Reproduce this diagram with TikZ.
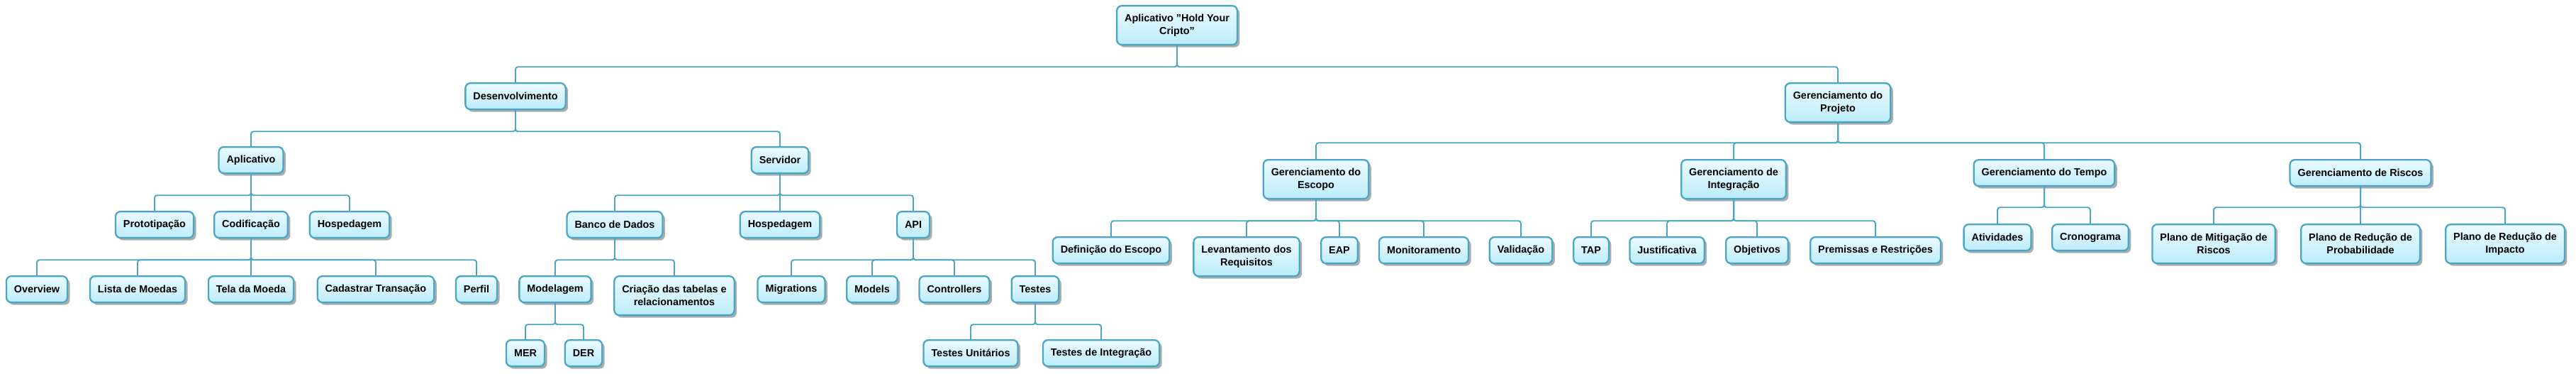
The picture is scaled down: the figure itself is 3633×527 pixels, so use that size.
\documentclass[tikz,border=0pt]{standalone}
\usepackage{fontspec}
\setmainfont{Liberation Sans}
\usetikzlibrary{shadows}

\definecolor{wbsline}{RGB}{74,166,196}
\definecolor{wbstop}{RGB}{236,251,255}
\definecolor{wbsbottom}{RGB}{188,236,251}

\begin{document}
\begin{tikzpicture}[
  x=0.02cm, y=-0.02cm,
  every node/.style={font=\fontsize{8.2pt}{10.2pt}\selectfont\bfseries},
  wbs/.style={draw=wbsline, line width=1.3pt, rounded corners=4pt,
    top color=wbstop, bottom color=wbsbottom, align=center, anchor=north,
    inner xsep=0.22cm, inner ysep=0pt, minimum height=0.74cm,
    drop shadow={fill=black!40, opacity=0.8, shadow xshift=0.07cm, shadow yshift=-0.07cm}},
  wbstwo/.style={wbs, minimum height=1.1cm},
  conn/.style={draw=wbsline, line width=1.1pt, rounded corners=2pt},
  ]
\useasboundingbox (0,0) rectangle (3633,527);

% Root and first level
\node[wbstwo] (root) at (1660,7) {Aplicativo "Hold Your\\Cripto"};
\node[wbs] (dev) at (727,116) {Desenvolvimento};
\node[wbstwo] (gp) at (2592,116) {Gerenciamento do\\Projeto};

% Desenvolvimento
\node[wbs] (app) at (354,206) {Aplicativo};
\node[wbs] (srv) at (1100,206) {Servidor};

\node[wbs] (proto) at (218,297) {Prototipação};
\node[wbs] (cod) at (354,297) {Codificação};
\node[wbs] (hospApp) at (493,297) {Hospedagem};

\node[wbs] (overview) at (52,388) {Overview};
\node[wbs] (lista) at (194,388) {Lista de Moedas};
\node[wbs] (tela) at (354,388) {Tela da Moeda};
\node[wbs] (cadastrar) at (530,388) {Cadastrar Transação};
\node[wbs] (perfil) at (672,388) {Perfil};

\node[wbs] (banco) at (867,297) {Banco de Dados};
\node[wbs] (hospSrv) at (1100,297) {Hospedagem};
\node[wbs] (api) at (1288,297) {API};

\node[wbs] (modelagem) at (783,388) {Modelagem};
\node[wbstwo] (criacao) at (951,388) {Criação das tabelas e\\relacionamentos};
\node[wbs] (mer) at (741,478) {MER};
\node[wbs] (der) at (823,478) {DER};

\node[wbs] (migrations) at (1116,388) {Migrations};
\node[wbs] (models) at (1230,388) {Models};
\node[wbs] (controllers) at (1346,388) {Controllers};
\node[wbs] (testes) at (1460,388) {Testes};
\node[wbs] (testesUnit) at (1369,478) {Testes Unitários};
\node[wbs] (testesInt) at (1553,478) {Testes de Integração};

% Gerenciamento do Projeto
\node[wbstwo] (escopo) at (1856,224) {Gerenciamento do\\Escopo};
\node[wbstwo] (integracao) at (2445,224) {Gerenciamento de\\Integração};
\node[wbs] (tempo) at (2883,224) {Gerenciamento do Tempo};
\node[wbs] (riscos) at (3329,224) {Gerenciamento de Riscos};

\node[wbs] (definicao) at (1567,333) {Definição do Escopo};
\node[wbstwo] (levantamento) at (1758,333) {Levantamento dos\\Requisitos};
\node[wbs] (eap) at (1889,333) {EAP};
\node[wbs] (monit) at (2008,333) {Monitoramento};
\node[wbs] (valid) at (2145,333) {Validação};

\node[wbs] (tap) at (2244,333) {TAP};
\node[wbs] (justif) at (2351,333) {Justificativa};
\node[wbs] (objet) at (2478,333) {Objetivos};
\node[wbs] (premissas) at (2645,333) {Premissas e Restrições};

\node[wbs] (ativ) at (2817,315) {Atividades};
\node[wbs] (crono) at (2948,315) {Cronograma};

\node[wbstwo] (mitig) at (3122,315) {Plano de Mitigação de\\Riscos};
\node[wbstwo] (probab) at (3329,315) {Plano de Redução de\\Probabilidade};
\node[wbstwo] (impacto) at (3533,315) {Plano de Redução de\\Impacto};

% Connectors
\foreach \c in {dev,gp} \draw[conn] (root.south) -- ++(0,30) -| (\c.north);
\foreach \c in {app,srv} \draw[conn] (dev.south) -- ++(0,30) -| (\c.north);
\foreach \c in {proto,cod,hospApp} \draw[conn] (app.south) -- ++(0,30) -| (\c.north);
\foreach \c in {overview,lista,tela,cadastrar,perfil} \draw[conn] (cod.south) -- ++(0,30) -| (\c.north);
\foreach \c in {banco,hospSrv,api} \draw[conn] (srv.south) -- ++(0,30) -| (\c.north);
\foreach \c in {modelagem,criacao} \draw[conn] (banco.south) -- ++(0,30) -| (\c.north);
\foreach \c in {mer,der} \draw[conn] (modelagem.south) -- ++(0,30) -| (\c.north);
\foreach \c in {migrations,models,controllers,testes} \draw[conn] (api.south) -- ++(0,30) -| (\c.north);
\foreach \c in {testesUnit,testesInt} \draw[conn] (testes.south) -- ++(0,30) -| (\c.north);
\foreach \c in {escopo,integracao,tempo,riscos} \draw[conn] (gp.south) -- ++(0,28) -| (\c.north);
\foreach \c in {definicao,levantamento,eap,monit,valid} \draw[conn] (escopo.south) -- ++(0,30) -| (\c.north);
\foreach \c in {tap,justif,objet,premissas} \draw[conn] (integracao.south) -- ++(0,30) -| (\c.north);
\foreach \c in {ativ,crono} \draw[conn] (tempo.south) -- ++(0,29) -| (\c.north);
\foreach \c in {mitig,probab,impacto} \draw[conn] (riscos.south) -- ++(0,29) -| (\c.north);

\end{tikzpicture}
\end{document}
